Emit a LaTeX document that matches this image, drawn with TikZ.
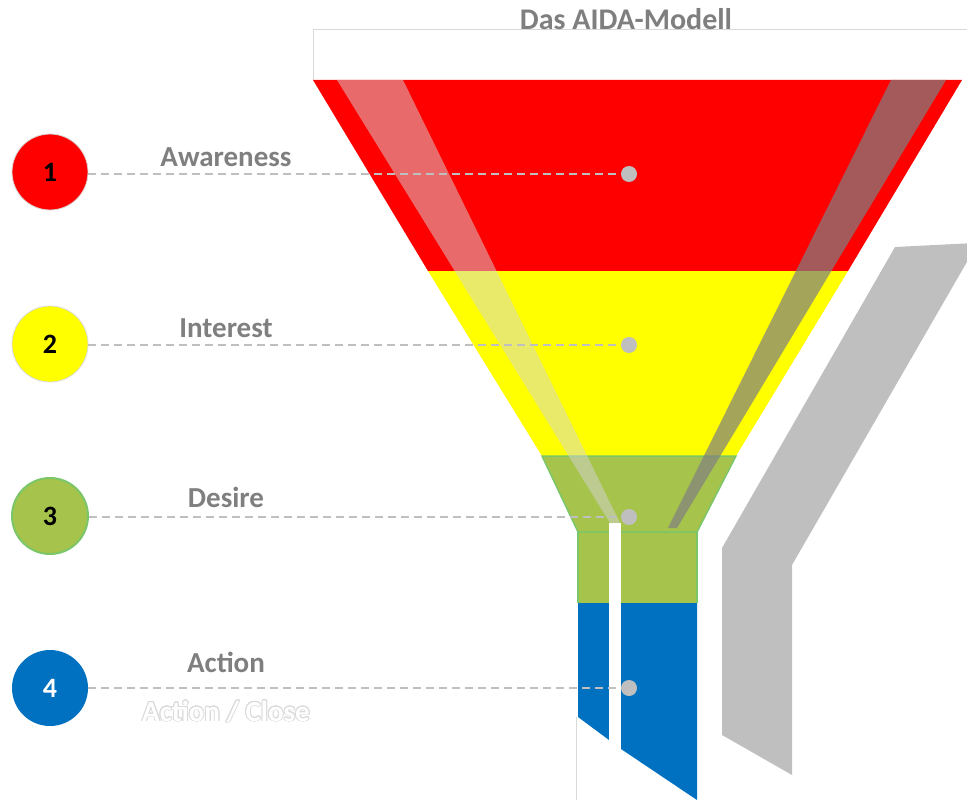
\documentclass[tikz,border=0pt]{standalone}
\usepackage{fontspec}
\setmainfont{Carlito}
\usepackage{contour}
\contourlength{0.9pt}
\definecolor{fred}{HTML}{FF0000}
\definecolor{fyellow}{HTML}{FFFF00}
\definecolor{fgreen}{HTML}{A6C34C}
\definecolor{fgreenline}{HTML}{7CC66A}
\definecolor{fblue}{HTML}{0070C0}
\definecolor{fgray}{HTML}{BFBFBF}
\definecolor{txtgray}{HTML}{7F7F7F}
\definecolor{edgegray}{HTML}{D9D9D9}
\tikzset{
  circ/.style={circle, minimum size=76pt, inner sep=0pt, font=\fontsize{28}{32}\selectfont\bfseries},
  dotnode/.style={circle, fill=fgray, minimum size=16pt, inner sep=0pt},
  dashline/.style={draw=fgray, line width=1.8pt, dash pattern=on 8pt off 5pt},
  lbl/.style={font=\fontsize{29}{34}\selectfont\bfseries, text=txtgray, inner sep=0pt},
}
\begin{document}
\begin{tikzpicture}[x=1pt,y=-1pt]
\useasboundingbox (0,0) rectangle (967,800);
% gray side shape
\fill[fgray] (895,247) -- (975,243) -- (975,248) -- (792,565) -- (792,775) -- (722,735) -- (722,548) -- cycle;
% top white rim
\draw[edgegray, fill=white, line width=1pt] (313,80) -- (313,30) -- (975,30);
% funnel bands
\fill[fred] (313,80) -- (962,80) -- (848,271) -- (428,271) -- cycle;
\fill[fyellow] (428,271) -- (848,271) -- (736,456) -- (542,456) -- cycle;
\fill[fgreen] (578,532) rectangle (697,603);
\draw[fgreenline, fill=fgreen, line width=1.5pt] (542,456) -- (736,456) -- (697,532) -- (578,532) -- cycle;
\draw[fgreenline, line width=1.2pt] (578,532) -- (578,603) (697,532) -- (697,603);
\fill[fblue] (578,603) -- (609,603) -- (609,740) -- (578,717) -- cycle;
\fill[fblue] (621,603) -- (697,603) -- (697,800) -- (621,749) -- cycle;
\fill[white] (609,523) rectangle (621,800);
\draw[edgegray, line width=1pt] (576,717) -- (576,800);
% gloss stripes
\fill[fill=black!17, fill opacity=0.5] (337,80) -- (403,80) -- (620,523) -- (610,523) -- cycle;
\fill[fill=black!50, fill opacity=0.71] (891,80) -- (946,80) -- (677,528) -- (668,528) -- cycle;
% title
\node[font=\fontsize{30}{35}\selectfont\bfseries, text=txtgray, inner sep=0pt] (title) at (626,19) {Das AIDA-Modell};
% markers
\coordinate (p1) at (629,174);
\coordinate (p2) at (629,345);
\coordinate (p3) at (629,517);
\coordinate (p4) at (629,688);
\node[circ, fill=fred, draw=edgegray, line width=0.8pt] (c1) at (50,172) {1};
\node[circ, fill=fyellow, draw=edgegray, line width=0.8pt] (c2) at (50,344) {2};
\node[circ, fill=fgreen, draw=fgreenline, line width=2pt] (c3) at (50,516) {3};
\node[circ, fill=fblue, text=white] (c4) at (50,688) {4};
\draw[dashline] (c1.east |- p1) -- (p1);
\draw[dashline] (c2.east |- p2) -- (p2);
\draw[dashline] (c3.east |- p3) -- (p3);
\draw[dashline] (c4.east |- p4) -- (p4);
\node[dotnode] (d1) at (p1) {};
\node[dotnode] (d2) at (p2) {};
\node[dotnode] (d3) at (p3) {};
\node[dotnode] (d4) at (p4) {};
% labels
\node[lbl] (l1) at (226,157) {Awareness};
\node[lbl] (l2) at (226,328) {Interest};
\node[lbl] (l3) at (226,497) {Desire};
\node[lbl] (l4) at (226,662) {Action};
\node[font=\fontsize{29}{34}\selectfont\bfseries, inner sep=0pt] (l5) at (226,712) {\contour{edgegray}{\color{white}Action / Close}};
\end{tikzpicture}
\end{document}
